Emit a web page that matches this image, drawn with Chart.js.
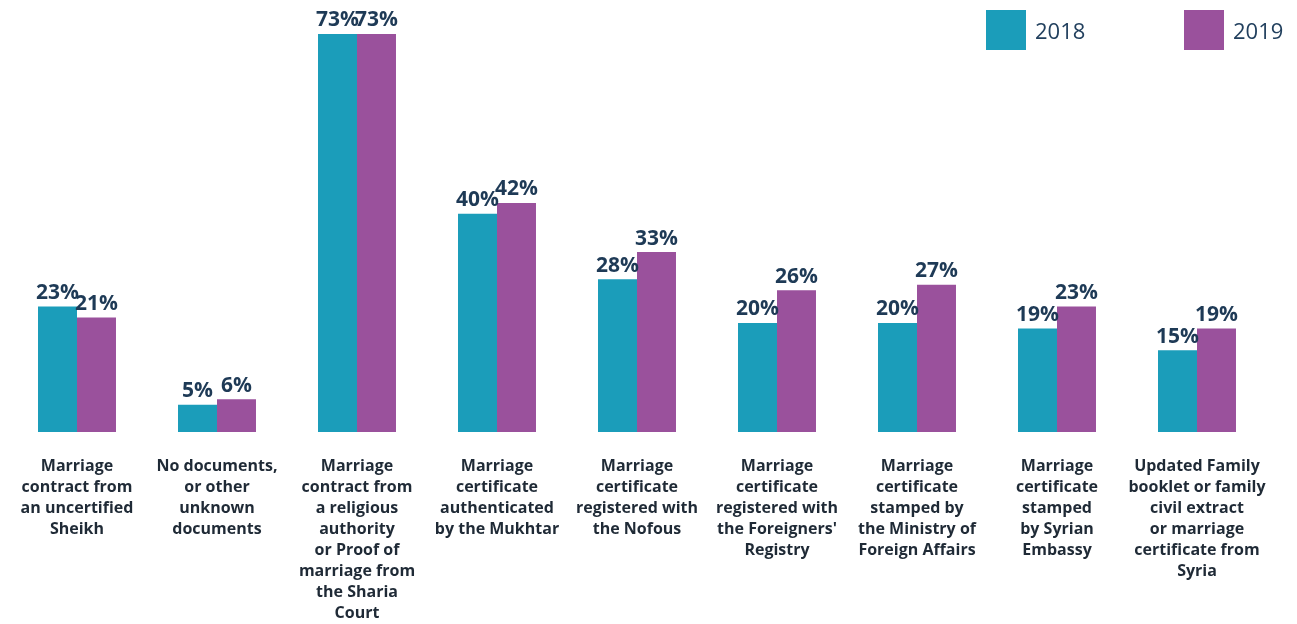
<!DOCTYPE html>
<html>
<head>
<meta charset="utf-8">
<script src="https://cdn.jsdelivr.net/npm/chart.js@4/dist/chart.umd.min.js"></script>
<style>
  html, body { margin: 0; padding: 0; background: #fff; }
  #wrap { position: relative; width: 1297px; height: 624px; }
  .leg { position: absolute; top: 10px; height: 40px; display: flex; align-items: center;
         font-family: "Open Sans", sans-serif; font-size: 22px; color: #22405e; }
  .leg span.box { width: 40px; height: 40px; display: inline-block; margin-right: 9px; }
</style>
</head>
<body>
<div id="wrap">
  <canvas id="grafico" width="1297" height="624"></canvas>
  <div class="leg" style="left:986px"><span class="box" style="background:#1b9dba"></span>2018</div>
  <div class="leg" style="left:1184px"><span class="box" style="background:#9a519c"></span>2019</div>
</div>
<script>
var categorias = [
  ["Marriage", "contract from", "an uncertified", "Sheikh"],
  ["No documents,", "or other", "unknown", "documents"],
  ["Marriage", "contract from", "a religious", "authority", "or Proof of", "marriage from", "the Sharia", "Court"],
  ["Marriage", "certificate", "authenticated", "by the Mukhtar"],
  ["Marriage", "certificate", "registered with", "the Nofous"],
  ["Marriage", "certificate", "registered with", "the Foreigners'", "Registry"],
  ["Marriage", "certificate", "stamped by", "the Ministry of", "Foreign Affairs"],
  ["Marriage", "certificate", "stamped", "by Syrian", "Embassy"],
  ["Updated Family", "booklet or family", "civil extract", "or marriage", "certificate from", "Syria"]
]
var valores2018 = [23, 5, 73, 40, 28, 20, 20, 19, 15]
var valores2019 = [21, 6, 73, 42, 33, 26, 27, 23, 19]

// escreve o valor em cima de cada barra
var rotulosPlugin = {
  id: 'rotulos',
  afterDatasetsDraw: function(chart) {
    var ctx = chart.ctx
    ctx.save()
    ctx.font = 'bold 21px "Open Sans", sans-serif'
    ctx.fillStyle = '#1e3a56'
    ctx.textAlign = 'center'
    ctx.textBaseline = 'bottom'
    chart.data.datasets.forEach(function(ds, i) {
      chart.getDatasetMeta(i).data.forEach(function(bar, j) {
        ctx.fillText(ds.data[j] + '%', bar.x, bar.y - 3)
      })
    })
    ctx.restore()
  }
}

new Chart(document.getElementById('grafico'), {
  type: 'bar',
  data: {
    labels: categorias,
    datasets: [
      { label: '2018', data: valores2018, backgroundColor: '#1b9dba' },
      { label: '2019', data: valores2019, backgroundColor: '#9a519c' }
    ]
  },
  options: {
    responsive: false,
    animation: false,
    layout: { padding: { top: 23, left: 7, right: 30, bottom: 0 } },
    plugins: { legend: { display: false }, tooltip: { enabled: false } },
    datasets: { bar: { categoryPercentage: 0.557, barPercentage: 1 } },
    scales: {
      x: {
        grid: { display: false },
        border: { display: false },
        afterFit: function(s) { s.height = 192 },
        ticks: {
          autoSkip: false,
          maxRotation: 0,
          padding: 16,
          color: '#1f2a36',
          font: { family: '"Open Sans", sans-serif', size: 16, weight: 'bold', lineHeight: 1.31 }
        }
      },
      y: {
        display: false,
        min: 0,
        max: 75
      }
    }
  },
  plugins: [rotulosPlugin]
})
</script>
</body>
</html>
